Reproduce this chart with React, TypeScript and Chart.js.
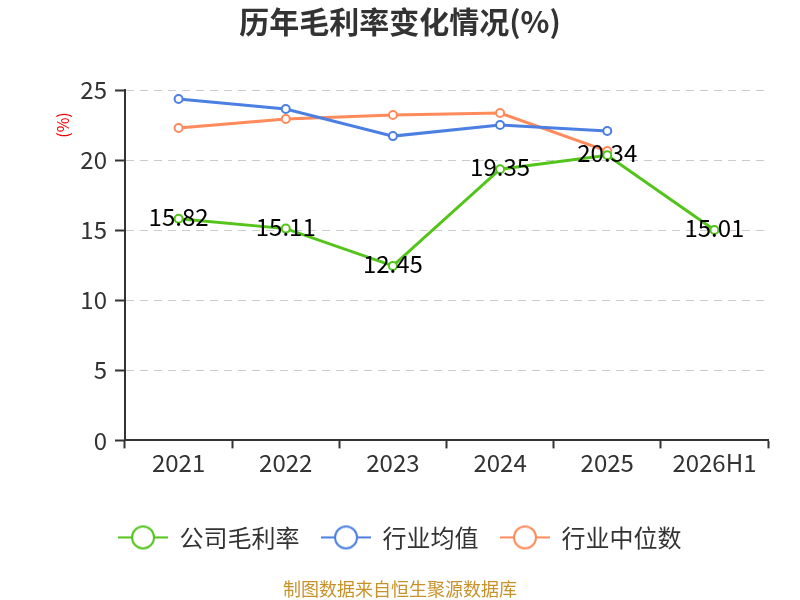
import { useEffect, useRef } from "react";
import { Chart, registerables } from "chart.js";

Chart.register(...registerables);

const years = ["2021", "2022", "2023", "2024", "2025", "2026H1"];
const companyMargin = [15.82, 15.11, 12.45, 19.35, 20.34, 15.01];
const industryAvg = [24.36, 23.64, 21.71, 22.5, 22.07, null];
const industryMedian = [22.29, 22.93, 23.21, 23.36, 20.64, null];
const yTicks = [0, 5, 10, 15, 20, 25];

const FONT = "'Noto Sans CJK SC', 'Noto Sans', sans-serif";
const GREEN = "#52c41a";
const BLUE = "#4b7fe1";
const ORANGE = "#ff8a5b";

// legend marker: short line with a hollow circle in the middle
const legendIcon = (color: string) => {
  const c = document.createElement("canvas");
  c.width = 50;
  c.height = 26;
  const ctx = c.getContext("2d")!;
  ctx.strokeStyle = color;
  ctx.lineWidth = 2;
  ctx.beginPath();
  ctx.moveTo(0, 13);
  ctx.lineTo(50, 13);
  ctx.stroke();
  ctx.beginPath();
  ctx.arc(25, 13, 11, 0, Math.PI * 2);
  ctx.fillStyle = "#fff";
  ctx.fill();
  ctx.stroke();
  return c;
};

const valueLabels = {
  id: "valueLabels",
  afterDatasetsDraw(chart: any) {
    const ctx = chart.ctx;
    const meta = chart.getDatasetMeta(0);
    ctx.save();
    ctx.font = `24px ${FONT}`;
    ctx.fillStyle = "#000";
    ctx.textAlign = "center";
    ctx.textBaseline = "middle";
    meta.data.forEach((pt: any, i: number) => {
      ctx.fillText(String(companyMargin[i]), pt.x, pt.y - 2);
    });
    ctx.restore();
  },
};

const unitLabel = {
  id: "unitLabel",
  afterDraw(chart: any) {
    const ctx = chart.ctx;
    const { left, top } = chart.chartArea;
    ctx.save();
    ctx.translate(left - 62, top + 35);
    ctx.rotate(-Math.PI / 2);
    ctx.font = `16px ${FONT}`;
    ctx.fillStyle = "#e00";
    ctx.textAlign = "center";
    ctx.textBaseline = "middle";
    ctx.fillText("(%)", 0, 0);
    ctx.restore();
  },
};

export default function App() {
  const ref = useRef<HTMLCanvasElement>(null);

  useEffect(() => {
    document.body.style.margin = "0";
    const icons = [legendIcon(GREEN), legendIcon(BLUE), legendIcon(ORANGE)];
    const series = (label: string, data: (number | null)[], color: string) => ({
      label,
      data,
      borderColor: color,
      backgroundColor: "#fff",
      borderWidth: 3,
      pointRadius: 4,
      pointBorderWidth: 2,
      pointBackgroundColor: "#fff",
      pointBorderColor: color,
      tension: 0,
    });
    const chart = new Chart(ref.current!, {
      type: "line",
      data: {
        labels: years,
        datasets: [
          series("公司毛利率", companyMargin, GREEN),
          series("行业均值", industryAvg, BLUE),
          series("行业中位数", industryMedian, ORANGE),
        ],
      },
      options: {
        responsive: false,
        animation: false,
        devicePixelRatio: 1,
        layout: { padding: 0 },
        scales: {
          x: {
            offset: true,
            afterFit: (s: any) => {
              s.height = 63;
            },
            grid: {
              offset: true,
              drawOnChartArea: false,
              tickLength: 8,
              tickColor: "#333",
              tickWidth: 2,
            },
            border: { color: "#333", width: 2 },
            ticks: { color: "#333", font: { size: 24, family: FONT }, padding: 0 },
          },
          y: {
            min: 0,
            max: 25,
            afterFit: (s: any) => {
              s.width = 125;
            },
            afterBuildTicks: (s: any) => {
              s.ticks = yTicks.map((v) => ({ value: v }));
            },
            grid: {
              color: "#cccccc",
              tickColor: "#333",
              tickLength: 10,
              tickWidth: 2,
            },
            border: { color: "#333", width: 2, dash: [8, 6] },
            ticks: { color: "#333", font: { size: 24, family: FONT }, padding: 8 },
          },
          // empty right-hand spacer so the plot ends where the reference does
          yRight: {
            position: "right",
            afterFit: (s: any) => {
              s.width = 32;
            },
            grid: { display: false },
            border: { display: false },
            ticks: { display: false },
          },
        },
        plugins: {
          title: {
            display: true,
            text: "历年毛利率变化情况(%)",
            color: "#333",
            font: { size: 30, weight: "bold", family: FONT },
            padding: { top: 4, bottom: 50 },
          },
          subtitle: {
            display: true,
            position: "bottom",
            text: "制图数据来自恒生聚源数据库",
            color: "#c8922a",
            font: { size: 18, family: FONT },
            padding: { top: 19, bottom: 0 },
          },
          legend: {
            position: "bottom",
            labels: {
              usePointStyle: true,
              pointStyleWidth: 49,
              boxHeight: 24,
              color: "#333",
              font: { size: 24, family: FONT },
              padding: 22,
              generateLabels: (c: any) =>
                Chart.defaults.plugins.legend.labels
                  .generateLabels(c)
                  .map((item: any, i: number) => ({ ...item, pointStyle: icons[i] })),
            },
          },
          tooltip: { enabled: false },
        },
      },
      plugins: [valueLabels, unitLabel],
    });
    return () => chart.destroy();
  }, []);

  return <canvas ref={ref} width={800} height={600} />;
}
